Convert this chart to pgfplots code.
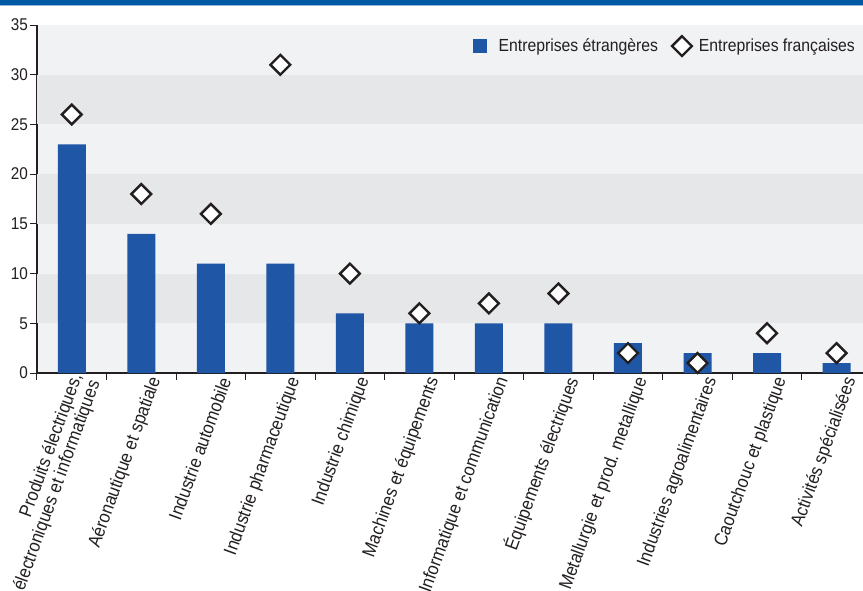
\documentclass[border=0pt]{standalone}
\usepackage{fontspec}
\setmainfont{Liberation Sans}[FakeStretch=0.9]
\usepackage{pgfplots}
\pgfplotsset{compat=1.18}
\definecolor{topblue}{HTML}{0057A3}
\definecolor{lineblue}{HTML}{8FB8DE}
\definecolor{barblue}{HTML}{1F56A6}
\definecolor{bandlight}{HTML}{F1F2F4}
\definecolor{banddark}{HTML}{E6E7E9}
\definecolor{axisgrey}{HTML}{231F20}
\begin{document}
\begin{tikzpicture}
\useasboundingbox (0,0) rectangle (863pt,590pt);
\clip (0,0) rectangle (863pt,590pt);
\fill[white] (0,0) rectangle (863pt,590pt);
\fill[topblue] (0,585pt) rectangle (863pt,590pt);
\fill[lineblue] (0,584pt) rectangle (863pt,585pt);
\begin{axis}[
  at={(37pt,217pt)}, anchor=south west,
  scale only axis, width=826pt, height=348pt,
  xmin=-0.5, xmax=11.38, ymin=0, ymax=35,
  axis background/.style={fill=bandlight},
  axis x line*=bottom, axis y line*=left,
  axis line style={-, draw=axisgrey, line width=1.2pt},
  tick style={draw=axisgrey, line width=1pt},
  tick align=outside, major tick length=7pt,
  ytick={0,5,...,35},
  yticklabel style={font=\fontsize{17}{19}\selectfont, text=axisgrey, inner sep=2pt},
  /pgf/number format/assume math mode=true,
  xtick={-0.5,0.5,...,10.5}, xticklabels={},
  extra x ticks={0,1,2,3,4,5,6,7,8,9,10,11},
  extra x tick style={major tick length=0pt},
  extra x tick labels={{Produits électriques,\\électroniques et informatiques},
    Aéronautique et spatiale, Industrie automobile, Industrie pharmaceutique,
    Industrie chimique, Machines et équipements, Informatique et communication,
    Équipements électriques, Metallurgie et prod. metallique,
    Industries agroalimentaires, Caoutchouc et plastique, Activités spécialisées},
  xticklabel style={font=\fontsize{18.5}{19}\selectfont, text=axisgrey, align=right,
    anchor=east, xshift=15pt, yshift=-4pt, rotate=70, inner sep=1pt},
  legend style={at={(1,1)}, anchor=north east, xshift=-6pt, yshift=-11pt,
    draw=none, fill=none, inner sep=0pt,
    font=\fontsize{17.5}{19}\selectfont, text=axisgrey,
    /tikz/every even column/.append style={column sep=12pt}},
  legend columns=2,
]
\fill[banddark] (axis cs:-0.5,5) rectangle (axis cs:11.38,10);
\fill[banddark] (axis cs:-0.5,15) rectangle (axis cs:11.38,20);
\fill[banddark] (axis cs:-0.5,25) rectangle (axis cs:11.38,30);
\addplot[ybar, bar width=28pt, fill=barblue, draw=none,
  legend image code/.code={\path[draw=none,fill=none] (0pt,-0.1pt) rectangle (24pt,0.1pt); \fill[barblue] (0pt,-7pt) rectangle (14pt,7pt);}]
  coordinates {(0,23) (1,14) (2,11) (3,11) (4,6) (5,5) (6,5) (7,5) (8,3) (9,2) (10,2) (11,1)};
\addlegendentry{Entreprises étrangères}
\addplot[only marks, mark=square*, mark size=7pt,
  mark options={rotate=45, fill=white, draw=axisgrey, line width=2.4pt},
  legend image code/.code={\path[draw=none,fill=none] (0pt,-0.1pt) rectangle (25pt,0.1pt); \draw[mark=square*, mark size=7pt, mark options={rotate=45, fill=white, draw=axisgrey, line width=2.4pt}] plot coordinates {(10pt,0pt)};}]
  coordinates {(0,26) (1,18) (2,16) (3,31) (4,10) (5,6) (6,7) (7,8) (8,2) (9,1) (10,4) (11,2)};
\addlegendentry{Entreprises françaises}
\end{axis}
\end{tikzpicture}
\end{document}
